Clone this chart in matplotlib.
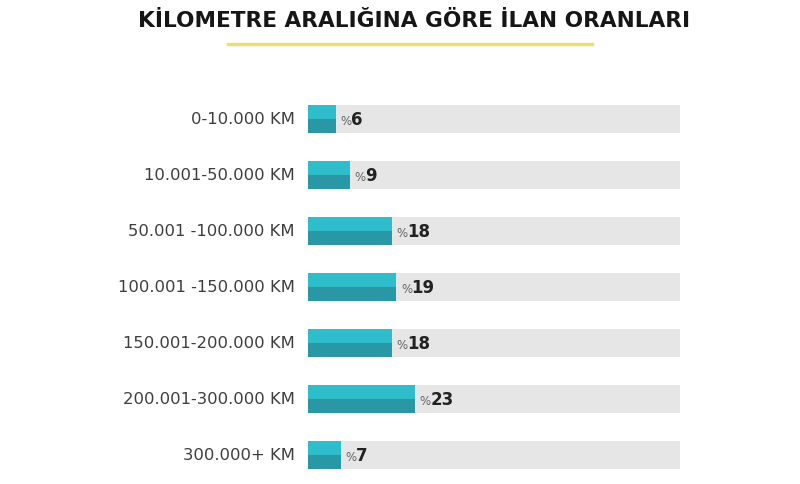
import matplotlib
matplotlib.use("Agg")
import matplotlib.pyplot as plt

categories = ["0-10.000 KM", "10.001-50.000 KM", "50.001 -100.000 KM", "100.001 -150.000 KM",
              "150.001-200.000 KM", "200.001-300.000 KM", "300.000+ KM"]
values = [6, 9, 18, 19, 18, 23, 7]
track_max = 80
title = "KİLOMETRE ARALIĞINA GÖRE İLAN ORANLARI"

fig = plt.figure(figsize=(8, 4.85), dpi=100)
ax = fig.add_axes([308/800, 1/485, 372/800, 392/485])
ax.set_xlim(0, track_max)
ax.set_ylim(len(categories) - 0.5, -0.5)
ax.axis("off")

h = 0.5
for i, (cat, v) in enumerate(zip(categories, values)):
    ax.barh(i, track_max, height=h, color="#e6e6e6", linewidth=0)
    ax.barh(i - h/4, v, height=h/2, color="#2fbccb", linewidth=0)
    ax.barh(i + h/4, v, height=h/2, color="#2898a6", linewidth=0)
    ax.annotate("%", (v, i), xytext=(3.5, -1), textcoords="offset points",
                ha="left", va="center", fontsize=8.5, color="#666666", family="DejaVu Sans")
    ax.annotate(str(v), (v, i), xytext=(11, 0), textcoords="offset points",
                ha="left", va="center", fontsize=12, color="#222222", family="DejaVu Sans", fontweight="bold")
    ax.text(-13 * track_max / 372, i, cat, ha="right", va="center", fontsize=11.8,
            color="#3d3d3d", family="DejaVu Sans")

fig.text(0.518, 1 - 21/485, title, ha="center", va="center", fontsize=15.6,
         fontweight="bold", family="DejaVu Sans", color="#161616")
fig.add_artist(plt.Line2D([228/800, 592/800], [1 - 45/485, 1 - 45/485], color="#f0dd70", lw=2.5))

fig.savefig("out.png", dpi=100)
